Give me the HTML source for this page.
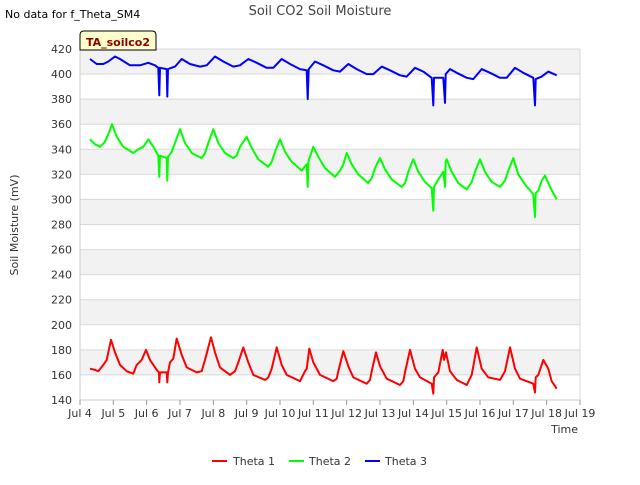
<!DOCTYPE html>
<html><head><meta charset="utf-8"><style>
body{margin:0;background:#fff;font-family:"Liberation Sans","DejaVu Sans",sans-serif;}
svg text{font-family:"DejaVu Sans","Liberation Sans",sans-serif;}
</style></head><body>
<svg id="chart" width="640" height="480" xmlns="http://www.w3.org/2000/svg">
<text x="320" y="15" text-anchor="middle" font-size="13" fill="#444">Soil CO2 Soil Moisture</text>
<text x="5" y="18" font-size="11" fill="#000">No data for f_Theta_SM4</text>
<g id="bands"></g>
<g id="grid"></g>
<g id="series"></g>
<g id="axes"></g>
<g>
<path d="M80,50 L80,35 Q80,31 84,31 L152,31 Q156,31 156,35 L156,50 Z" fill="#ffffcc" stroke="#000" stroke-width="1"/>
<text x="118" y="46" text-anchor="middle" font-size="11" font-weight="bold" fill="#8b0000">TA_soilco2</text>
</g>
<text transform="translate(18,225) rotate(-90)" text-anchor="middle" font-size="11" fill="#333">Soil Moisture (mV)</text>
<text x="578" y="433" text-anchor="end" font-size="11" fill="#333">Time</text>
<g>
<g><line x1="212" y1="461" x2="227" y2="461" stroke="#ff0000" stroke-width="2"/><text x="233" y="465" font-size="11" fill="#333">Theta 1</text></g>
<g><line x1="289" y1="461" x2="304" y2="461" stroke="#00ff00" stroke-width="2"/><text x="309" y="465" font-size="11" fill="#333">Theta 2</text></g>
<g><line x1="365" y1="461" x2="380" y2="461" stroke="#0000ff" stroke-width="2"/><text x="385" y="465" font-size="11" fill="#333">Theta 3</text></g>
</g>
</svg>
<script>
const xTickLabels=["Jul 4","Jul 5","Jul 6","Jul 7","Jul 8","Jul 9","Jul 10","Jul 11","Jul 12","Jul 13","Jul 14","Jul 15","Jul 16","Jul 17","Jul 18","Jul 19"];
const yTicks=[140,160,180,200,220,240,260,280,300,320,340,360,380,400,420];
const theta1Days=[0.3,0.45,0.55,0.7,0.8,0.93,1.05,1.2,1.4,1.6,1.7,1.85,1.98,2.1,2.3,2.37,2.38,2.4,2.6,2.62,2.64,2.7,2.8,2.9,3.05,3.2,3.5,3.65,3.75,3.93,4.05,4.2,4.5,4.65,4.75,4.9,5.05,5.2,5.55,5.65,5.75,5.9,6.05,6.2,6.6,6.75,6.8,6.88,7.0,7.2,7.6,7.7,7.75,7.9,8.05,8.2,8.6,8.7,8.75,8.88,9.0,9.2,9.6,9.7,9.75,9.9,10.05,10.2,10.55,10.6,10.62,10.75,10.88,10.92,10.98,11.1,11.3,11.6,11.75,11.9,12.05,12.25,12.6,12.75,12.9,13.05,13.2,13.6,13.65,13.67,13.75,13.9,14.05,14.15,14.3];
const theta1Values=[165,164,163,168,172,188,178,168,163,161,168,172,180,172,164,162,154,162,162,154,162,170,173,189,176,166,162,163,172,190,178,166,160,163,170,182,170,160,156,158,165,182,168,160,155,163,165,181,170,160,155,157,163,179,167,158,153,156,163,178,167,157,152,155,162,180,165,158,153,145,158,162,180,172,178,163,156,152,160,182,165,158,156,163,182,165,157,153,146,158,160,172,165,155,149];
const theta2Days=[0.3,0.45,0.6,0.75,0.85,0.96,1.1,1.3,1.6,1.75,1.9,2.05,2.2,2.35,2.38,2.4,2.6,2.62,2.64,2.75,2.85,3.0,3.15,3.35,3.65,3.75,3.85,4.0,4.15,4.35,4.6,4.7,4.8,5.0,5.15,5.35,5.65,5.75,5.85,6.0,6.15,6.35,6.65,6.8,6.83,6.85,7.0,7.15,7.35,7.65,7.8,7.9,8.0,8.15,8.35,8.65,8.75,8.85,9.0,9.15,9.35,9.65,9.75,9.85,10.0,10.15,10.35,10.55,10.6,10.62,10.75,10.9,10.95,10.97,11.0,11.15,11.35,11.6,11.75,11.85,12.0,12.15,12.35,12.6,12.75,12.85,13.0,13.15,13.35,13.6,13.65,13.67,13.75,13.85,13.95,14.1,14.3];
const theta2Values=[348,344,342,346,352,360,350,342,337,340,342,348,342,335,318,335,333,315,334,338,345,356,345,337,333,337,345,356,345,337,333,335,342,350,341,332,326,330,338,348,338,330,323,328,310,330,342,334,325,318,323,328,337,328,320,313,317,325,333,324,316,310,313,322,332,322,314,309,291,310,316,322,310,330,332,322,313,308,314,322,332,322,314,310,315,323,333,320,312,304,286,305,307,315,319,310,300];
const theta3Days=[0.3,0.5,0.7,0.85,1.05,1.2,1.5,1.8,2.05,2.25,2.35,2.38,2.4,2.6,2.62,2.64,2.85,3.05,3.3,3.6,3.8,4.05,4.3,4.6,4.8,5.05,5.3,5.6,5.8,6.05,6.3,6.6,6.8,6.83,6.86,7.05,7.3,7.6,7.8,8.05,8.3,8.6,8.8,9.05,9.3,9.6,9.8,10.05,10.3,10.55,10.6,10.62,10.9,10.95,10.97,11.1,11.3,11.6,11.8,12.05,12.3,12.6,12.8,13.05,13.3,13.6,13.65,13.67,13.85,14.05,14.3];
const theta3Values=[412,408,408,410,414,412,407,407,409,407,405,383,405,404,382,404,406,412,408,406,407,414,410,406,407,412,409,405,405,412,408,404,403,380,404,410,407,403,402,408,404,400,400,406,403,399,398,405,402,397,375,397,397,377,400,404,401,397,396,404,401,397,397,405,401,397,375,396,398,402,399];

const NS="http://www.w3.org/2000/svg";
const X0=80,X1=580,Y0=400,Y1=49;
const xScale=d=>X0+d*(X1-X0)/15;
const yScale=v=>Y0-(v-140)*(Y0-Y1)/280;
function mk(tag,attrs,parent){const e=document.createElementNS(NS,tag);for(const k in attrs)e.setAttribute(k,attrs[k]);parent.appendChild(e);return e;}
const bands=document.getElementById('bands'),grid=document.getElementById('grid'),axes=document.getElementById('axes'),series=document.getElementById('series');
mk('rect',{x:X0,y:Y1,width:X1-X0,height:Y0-Y1,fill:'#fff'},bands);
for(let i=0;i<yTicks.length-1;i++){
  if(i%2===1){const r=mk('rect',{x:X0,y:yScale(yTicks[i+1]),width:X1-X0,height:yScale(yTicks[i])-yScale(yTicks[i+1]),fill:'#f2f2f2'},bands);
  
  }
}
yTicks.forEach(v=>{
  const l=mk('line',{x1:X0,x2:X1,y1:yScale(v),y2:yScale(v),stroke:'#d9d9d9','stroke-width':1},grid);
  
  
  const t=mk('text',{x:X0-8,y:yScale(v)+4,'text-anchor':'end','font-size':11,fill:'#333'},axes);
  t.textContent=v;
  
  
});
mk('line',{x1:X1,x2:X1,y1:Y1,y2:Y0,stroke:'#d9d9d9'},grid);
mk('line',{x1:X0,x2:X0,y1:Y1,y2:Y0,stroke:'#ccc'},axes);
mk('line',{x1:X0,x2:X1,y1:Y0,y2:Y0,stroke:'#ccc'},axes);
xTickLabels.forEach((s,i)=>{
  mk('line',{x1:xScale(i),x2:xScale(i),y1:Y0,y2:Y0+5,stroke:'#999'},axes);
  const t=mk('text',{x:xScale(i),y:Y0+17,'text-anchor':'middle','font-size':11,fill:'#333'},axes);
  t.textContent=s;
  
  
});
function line(days,vals,color,name){
  const p=mk('polyline',{points:days.map((d,i)=>xScale(d).toFixed(1)+','+yScale(vals[i]).toFixed(1)).join(' '),fill:'none',stroke:color,'stroke-width':2,'stroke-linejoin':'round'},series);
  
  
}
line(theta1Days,theta1Values,'#ff0000','theta-1-line');
line(theta2Days,theta2Values,'#00ff00','theta-2-line');
line(theta3Days,theta3Values,'#0000ff','theta-3-line');
</script>
</body></html>
